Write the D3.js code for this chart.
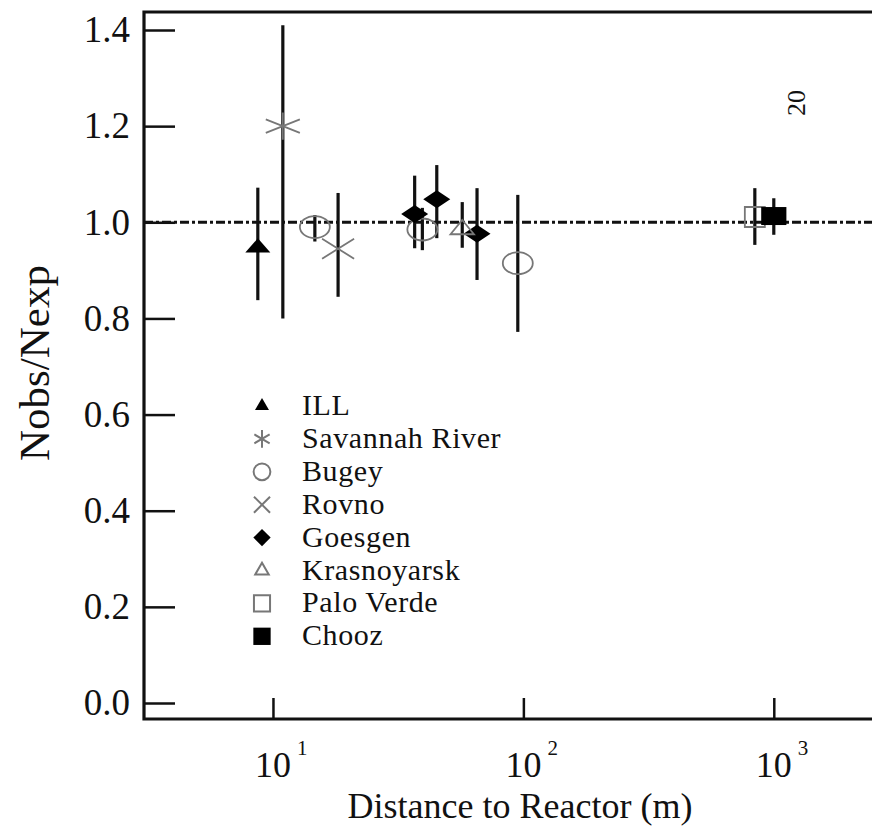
<!DOCTYPE html>
<html>
<head>
<meta charset="utf-8">
<script src="https://cdn.jsdelivr.net/npm/d3@7"></script>
<style>
  html, body { margin: 0; padding: 0; background: #fff; }
  svg { display: block; }
  text { font-family: "Liberation Serif", "DejaVu Serif", serif; fill: #111; }
</style>
</head>
<body>
<svg id="chart" width="872" height="827"></svg>
<script>
// ---- data ----
const experiments = ["ILL", "Savannah River", "Bugey", "Rovno", "Goesgen", "Krasnoyarsk", "Palo Verde", "Chooz"];
const distILL = [8.7];            const ratioILL = [0.947];   const loILL = [0.838];  const hiILL = [1.072];
const distSavannah = [10.95];     const ratioSavannah = [1.20]; const loSavannah = [0.80]; const hiSavannah = [1.41];
const distBugey = [14.7, 39.5, 95]; const ratioBugey = [0.99, 0.985, 0.915]; const loBugey = [0.96, 0.942, 0.772]; const hiBugey = [1.015, 1.03, 1.057];
const distRovno = [18.2];         const ratioRovno = [0.945]; const loRovno = [0.845]; const hiRovno = [1.061];
const distGoesgen = [36.8, 45.1, 65.3]; const ratioGoesgen = [1.017, 1.048, 0.976]; const loGoesgen = [0.946, 0.967, 0.88]; const hiGoesgen = [1.097, 1.119, 1.071];
const distKrasnoyarsk = [57];     const ratioKrasnoyarsk = [0.985]; const loKrasnoyarsk = [0.947]; const hiKrasnoyarsk = [1.042];
const distPaloVerde = [840];      const ratioPaloVerde = [1.011]; const loPaloVerde = [0.953]; const hiPaloVerde = [1.071];
const distChooz = [1000];         const ratioChooz = [1.013]; const loChooz = [0.974]; const hiChooz = [1.05];
const yTicks = [0.0, 0.2, 0.4, 0.6, 0.8, 1.0, 1.2, 1.4];
const xTicks = [10, 100, 1000];
const xTickExp = ["1", "2", "3"];
const refLine = 1.0;

// ---- helpers ----
function pts(d, r, lo, hi) { return d.map((v, i) => ({ d: v, r: r[i], lo: lo[i], hi: hi[i] })); }
const series = [
  { name: "ILL", sym: d3.symbolTriangle2, fill: "#000", stroke: "none", size: 175, sc: [1.6, 1.05], rot: 0, lsize: 140, pts: pts(distILL, ratioILL, loILL, hiILL) },
  { name: "Savannah River", sym: d3.symbolAsterisk, fill: "none", stroke: "#777", size: 520, sc: [1.45, 1.0], rot: 0, lsize: 220, pts: pts(distSavannah, ratioSavannah, loSavannah, hiSavannah) },
  { name: "Bugey", sym: d3.symbolCircle, fill: "none", stroke: "#777", size: 314, sc: [1.5, 1.1], rot: 0, lsize: 220, pts: pts(distBugey, ratioBugey, loBugey, hiBugey) },
  { name: "Rovno", sym: d3.symbolTimes, fill: "none", stroke: "#777", size: 263, sc: [1.6, 1.0], rot: 0, lsize: 170, pts: pts(distRovno, ratioRovno, loRovno, hiRovno) },
  { name: "Goesgen", sym: d3.symbolSquare, fill: "#000", stroke: "none", size: 162, sc: [1.5, 1.0], rot: 45, lsize: 150, pts: pts(distGoesgen, ratioGoesgen, loGoesgen, hiGoesgen) },
  { name: "Krasnoyarsk", sym: d3.symbolTriangle2, fill: "none", stroke: "#777", size: 175, sc: [1.5, 1.05], rot: 0, lsize: 130, pts: pts(distKrasnoyarsk, ratioKrasnoyarsk, loKrasnoyarsk, hiKrasnoyarsk) },
  { name: "Palo Verde", sym: d3.symbolSquare2, fill: "none", stroke: "#777", size: 509, sc: [1.0, 1.0], rot: 0, lsize: 330, pts: pts(distPaloVerde, ratioPaloVerde, loPaloVerde, hiPaloVerde) },
  { name: "Chooz", sym: d3.symbolSquare, fill: "#000", stroke: "none", size: 324, sc: [1.4, 1.0], rot: 0, lsize: 300, pts: pts(distChooz, ratioChooz, loChooz, hiChooz) }
];

// ---- layout ----
const frame = { left: 144, right: 899, top: 12, bottom: 719 };
const x = d3.scaleLog().domain([Math.pow(10, 0.485), Math.pow(10, 3.5)]).range([frame.left, frame.right]);
const y = d3.scaleLinear().domain([0, 1.4]).range([703, 30]);

const svg = d3.select("#chart");

svg.append("defs").append("clipPath").attr("id", "clip")
  .append("rect").attr("x", frame.left).attr("y", frame.top).attr("width", frame.right - frame.left).attr("height", frame.bottom - frame.top);

// y axis ticks (inward)
const yAxis = d3.axisLeft(y).tickValues(yTicks).tickFormat(d3.format(".1f")).tickSize(-31).tickSizeOuter(0).tickPadding(14);
const gy = svg.append("g").attr("transform", `translate(${frame.left},0)`).call(yAxis);
gy.attr("font-family", null);
gy.select(".domain").remove();
gy.selectAll(".tick line").attr("stroke", "#111").attr("stroke-width", 2.5);
gy.selectAll(".tick text").attr("font-size", 37).attr("fill", "#111");

// x axis ticks (inward)
const xAxis = d3.axisBottom(x).tickValues(xTicks).tickFormat("").tickSize(-21).tickSizeOuter(0);
const gx = svg.append("g").attr("transform", `translate(0,${frame.bottom})`).call(xAxis);
gx.select(".domain").remove();
gx.selectAll(".tick line").attr("stroke", "#111").attr("stroke-width", 2.5);

// x tick labels with superscripts
const xl = svg.append("g").selectAll("g").data(xTicks).join("g")
  .attr("transform", d => `translate(${x(d)},777)`);
xl.append("text").attr("text-anchor", "middle").attr("font-size", 36).text("10");
xl.append("text").attr("x", 24).attr("y", -22).attr("font-size", 21).text((d, i) => xTickExp[i]);

// frame
svg.append("path")
  .attr("d", `M${frame.right},${frame.top}H${frame.left}V${frame.bottom}H${frame.right}`)
  .attr("fill", "none").attr("stroke", "#111").attr("stroke-width", 3.2);

// reference line at 1.0 (dash-dot)
const inner = svg.append("g").attr("clip-path", "url(#clip)");
inner.append("line")
  .attr("x1", frame.left).attr("x2", frame.right)
  .attr("y1", y(refLine)).attr("y2", y(refLine))
  .attr("stroke", "#111").attr("stroke-width", 3).attr("stroke-dasharray", "9,3,3,3");

// error bars
series.forEach(s => {
  inner.append("g").selectAll("line").data(s.pts).join("line")
    .attr("x1", d => x(d.d)).attr("x2", d => x(d.d))
    .attr("y1", d => y(d.lo)).attr("y2", d => y(d.hi))
    .attr("stroke", "#111").attr("stroke-width", 3.2);
});

// markers
series.forEach(s => {
  inner.append("g").selectAll("path").data(s.pts).join("path")
    .attr("d", d3.symbol(s.sym, s.size))
    .attr("transform", d => `translate(${x(d.d)},${y(d.r)}) scale(${s.sc[0]},${s.sc[1]}) rotate(${s.rot})`)
    .attr("fill", s.fill)
    .attr("stroke", s.stroke === "none" ? null : s.stroke)
    .attr("stroke-width", s.stroke === "none" ? null : 1.8)
    .attr("vector-effect", "non-scaling-stroke");
});

// legend
const legend = svg.append("g").attr("transform", "translate(262,406)");
const li = legend.selectAll("g").data(series).join("g")
  .attr("transform", (d, i) => `translate(0,${i * 32.9})`);
li.append("path")
  .attr("d", d => d3.symbol(d.sym, d.lsize)())
  .attr("transform", d => `rotate(${d.rot})`)
  .attr("fill", d => d.fill)
  .attr("stroke", d => d.stroke === "none" ? null : d.stroke)
  .attr("stroke-width", 2);
li.append("text").attr("x", 40).attr("y", 9).attr("font-size", 30).attr("letter-spacing", 0.6).text(d => d.name);

// axis titles
svg.append("text").attr("x", 520).attr("y", 818).attr("text-anchor", "middle").attr("font-size", 36)
  .text("Distance to Reactor (m)");
svg.append("text").attr("transform", "translate(49,363) rotate(-90)").attr("text-anchor", "middle").attr("font-size", 43)
  .text("Nobs/Nexp");

// stray page number
svg.append("text").attr("transform", "translate(805,103) rotate(-90)").attr("text-anchor", "middle").attr("font-size", 26)
  .text("20");
</script>
</body>
</html>
